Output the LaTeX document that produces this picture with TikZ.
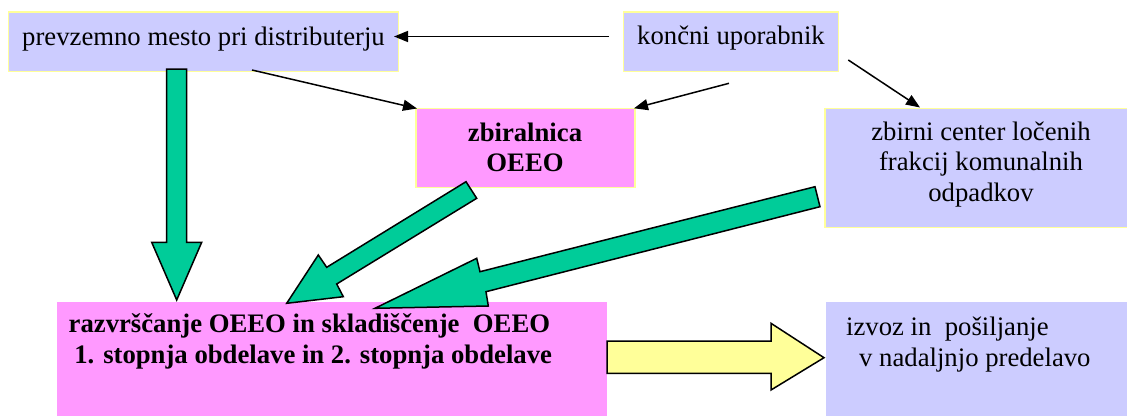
\documentclass[tikz,border=0pt]{standalone}
\usepackage{fontspec}
\setmainfont{Liberation Serif}
\usetikzlibrary{arrows.meta}
\definecolor{lavbox}{HTML}{CCCCFF}
\definecolor{pinkbox}{HTML}{FF99FF}
\definecolor{paleyel}{HTML}{FFFF99}
\definecolor{flowgreen}{HTML}{00CC99}
\begin{document}
\begin{tikzpicture}[x=1pt,y=-1pt,
  box/.style={rectangle, inner sep=0pt, draw=paleyel, line width=1.4pt},
  plainbox/.style={rectangle, inner sep=0pt, draw=none},
  txt/.style={inner sep=0pt, anchor=base, font=\fontsize{26.7}{30.5}\selectfont},
  btxt/.style={txt, font=\fontsize{26.7}{30.5}\selectfont\bfseries},
  link/.style={line width=1.5pt, -{Triangle[length=14pt,width=11pt]}},
  blockarrow/.style={draw=black, line width=1.5pt, line join=miter, fill=flowgreen},
  outarrow/.style={draw=black, line width=1.5pt, line join=miter, fill=paleyel}]
\useasboundingbox (0,0) rectangle (1127,415);

% boxes
\node[box, fill=lavbox, minimum width=390pt, minimum height=59.7pt] (prev) at (203.3,41.8) {};
\node[box, fill=lavbox, minimum width=215pt, minimum height=59.7pt] (user) at (730.8,41.8) {};
\node[box, fill=pinkbox, minimum width=219pt, minimum height=79.4pt] (zbir) at (525.5,148) {};
\node[box, fill=lavbox, minimum width=315pt, minimum height=119.4pt] (center) at (982.5,168) {};
\node[plainbox, fill=pinkbox, minimum width=549.7pt, minimum height=123.3pt] (sort) at (332.15,363.35) {};
\node[plainbox, fill=lavbox, minimum width=309pt, minimum height=123.3pt] (export) at (980.5,363.35) {};

% green block arrows towards sorting
\draw[blockarrow] (166.7,69) -- (186.7,69) -- (186.7,242.3) -- (201.7,242.3)
  -- (176.7,300) -- (151.7,242.3) -- (166.7,242.3) -- cycle;
\draw[blockarrow] (466,181.7) -- (476.7,198.3) -- (336.7,284) -- (343.3,296.7)
  -- (286.7,303.3) -- (318.3,255) -- (326.7,267.3) -- cycle;
\draw[blockarrow] (815,186.7) -- (820,206.7) -- (486,291.7) -- (488.3,306)
  -- (375,308.3) -- (476.7,258.3) -- (480,271.7) -- cycle;

% yellow arrow to export
\draw[outarrow] (607,341) -- (771,341) -- (771,323.3) -- (824,357.7)
  -- (771,390) -- (771,373.3) -- (607,373.3) -- cycle;

% thin connectors
\coordinate (u1) at (609,36.5);
\coordinate (p1) at (394,36.5);
\coordinate (p2) at (252,70);
\coordinate (z1) at (417,108.5);
\coordinate (u2) at (729,83.3);
\coordinate (z2) at (634,108.3);
\coordinate (u3) at (848.3,60);
\coordinate (c1) at (920,107.5);
\draw[link] (u1) -- (p1);
\draw[link] (p2) -- (z1);
\draw[link] (u2) -- (z2);
\draw[link] (u3) -- (c1);

% labels
\node[txt] (prevtext) at (203.5,45.7) {prevzemno mesto pri distributerju};
\node[txt] (usertext) at (731,44.5) {končni uporabnik};
\node[btxt] (zbirtexta) at (525,141.7) {zbiralnica};
\node[btxt] (zbirtextb) at (525,171.7) {OEEO};
\node[txt] (centertexta) at (981,140) {zbirni center ločenih};
\node[txt] (centertextb) at (981,170.7) {frakcij komunalnih};
\node[txt] (centertextc) at (981,201.7) {odpadkov};
\node[btxt] (sorttexta) at (309.4,332.7) {razvrščanje OEEO in skladiščenje\ \ OEEO};
\node[btxt] (sorttextb) at (313.2,363.3) {1. stopnja obdelave in 2. stopnja obdelave};
\node[txt, anchor=base west] (exporttexta) at (846,335.7) {izvoz in\ \ pošiljanje};
\node[txt, anchor=base west] (exporttextb) at (859,366) {v nadaljnjo predelavo};
\end{tikzpicture}
\end{document}
